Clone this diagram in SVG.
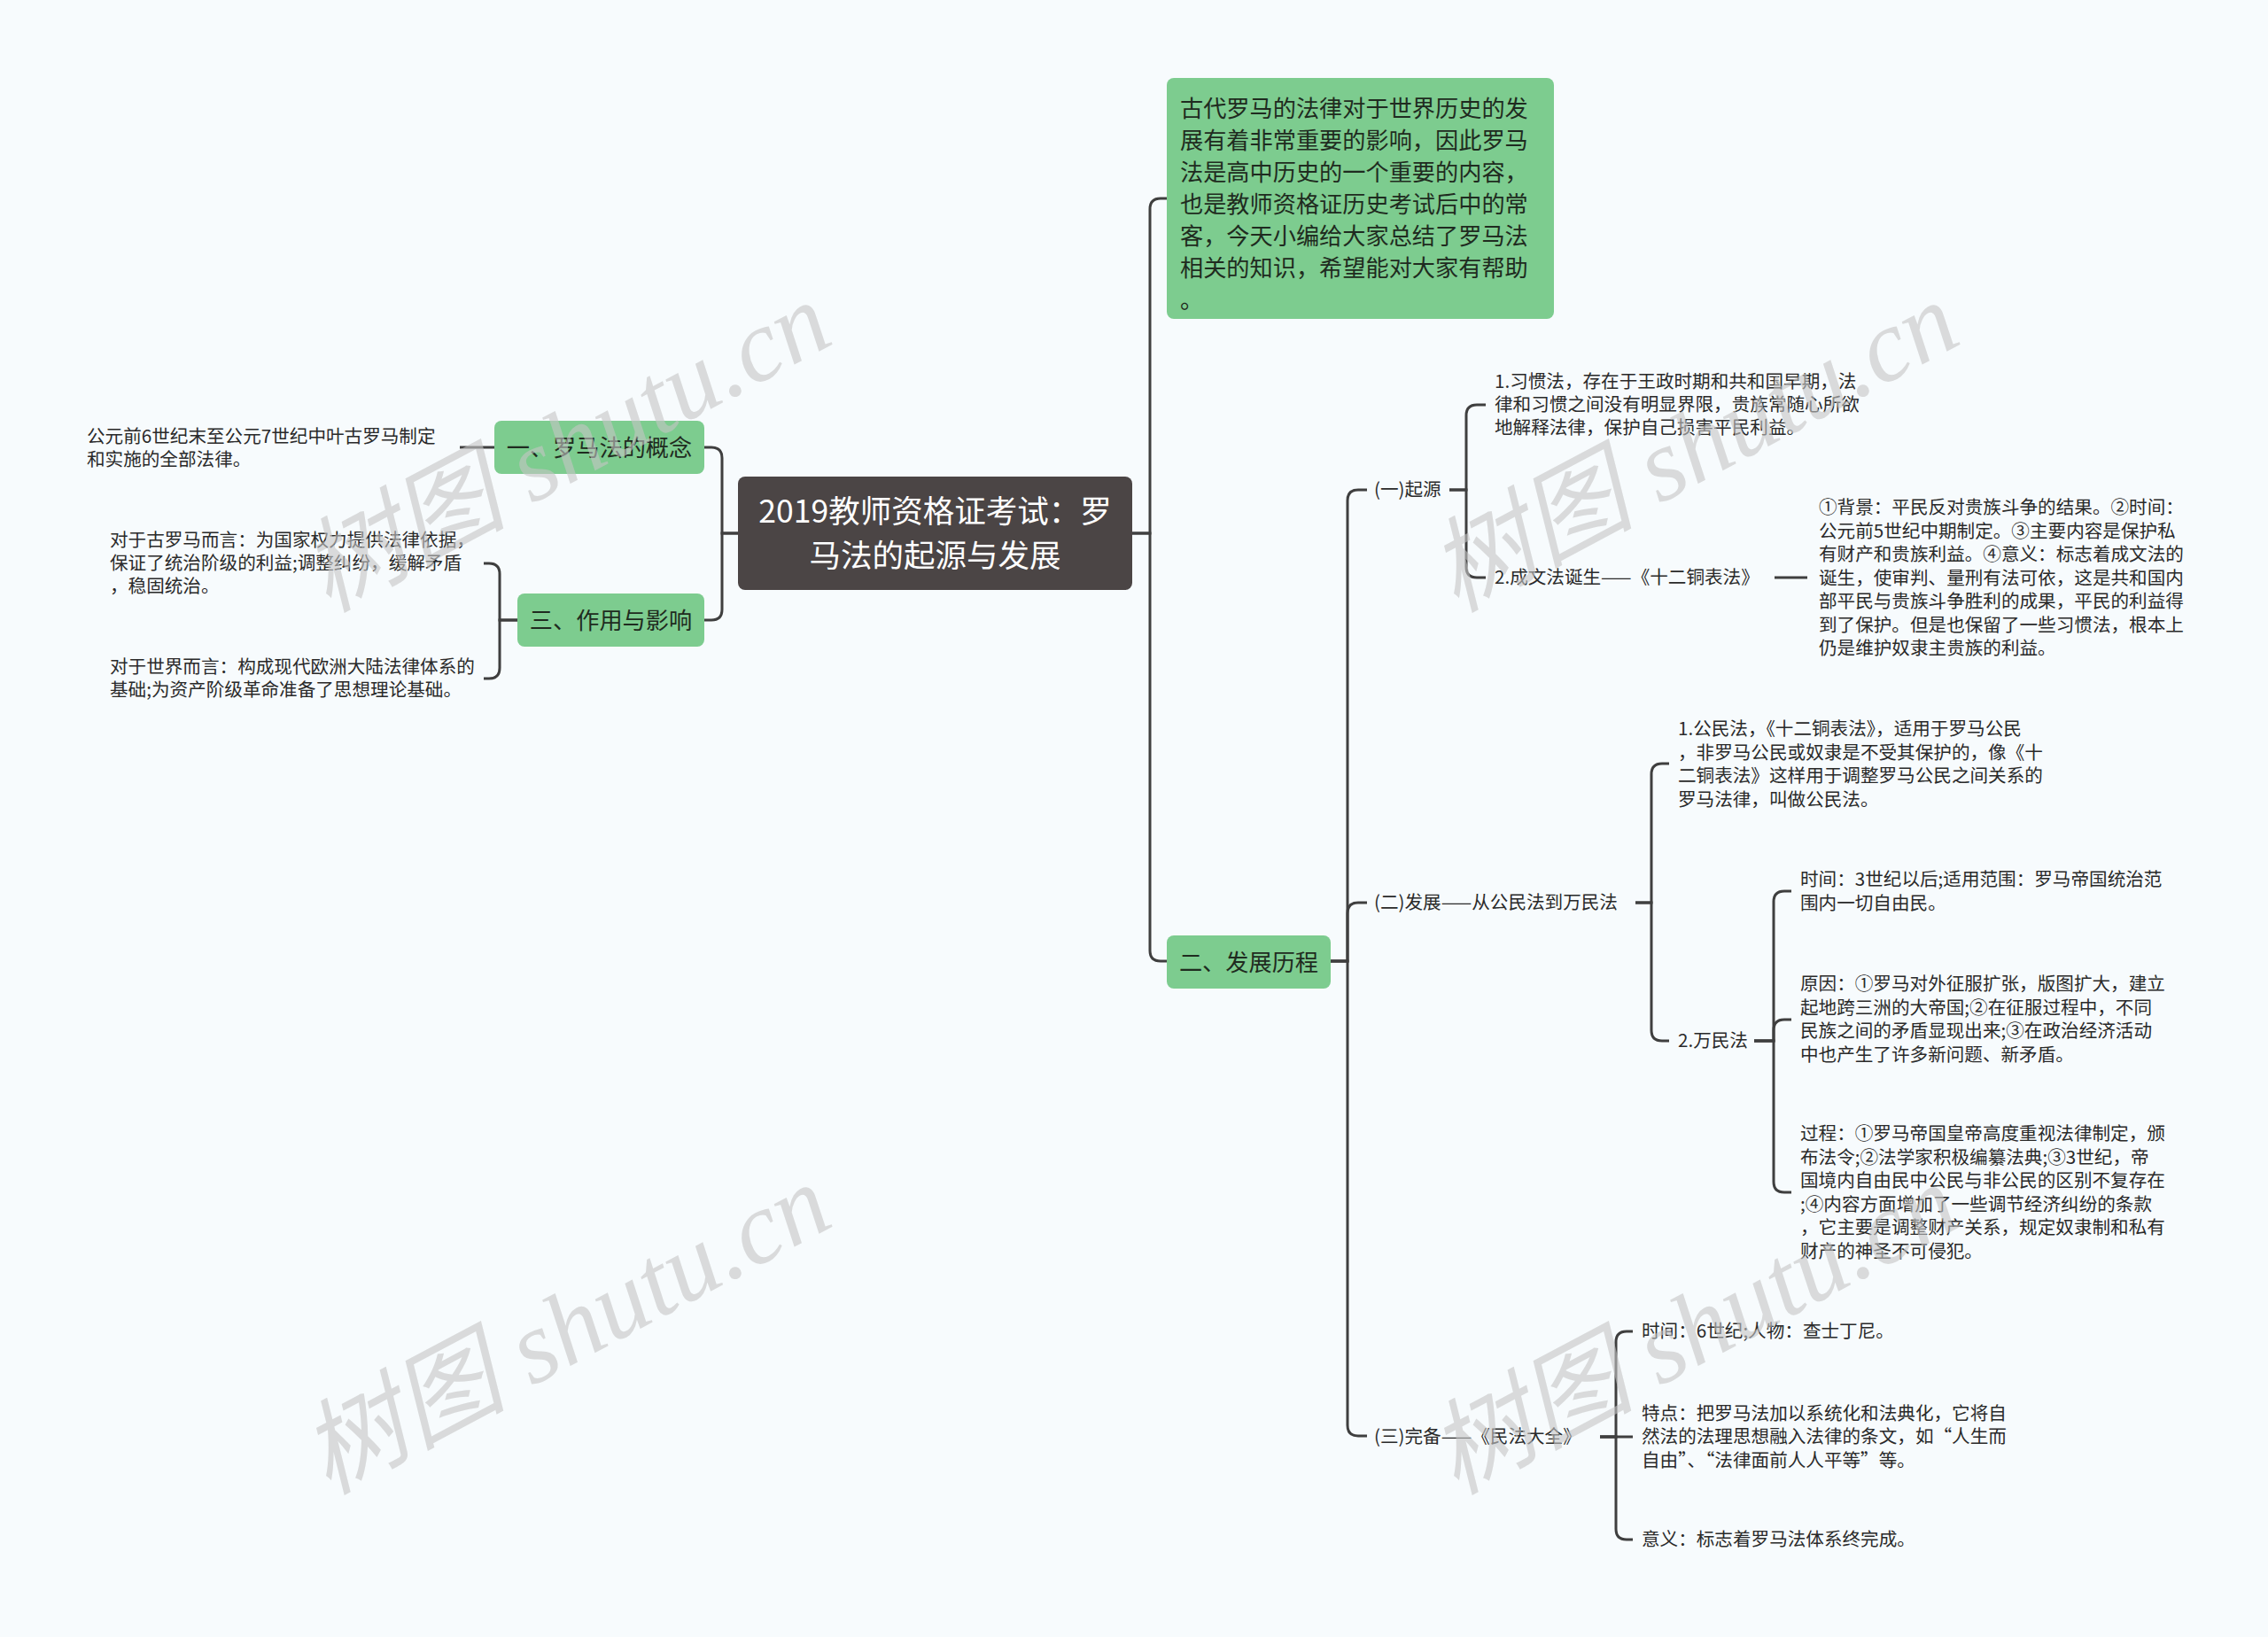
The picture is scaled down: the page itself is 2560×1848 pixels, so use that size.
<svg xmlns="http://www.w3.org/2000/svg" width="2560" height="1848" viewBox="0 0 2560 1848">
<style>
text { font-family: "Noto Sans CJK SC", sans-serif; }
.leaf { font-size: 20.6px; fill: #2a2a2a; }
.main { font-size: 26.2px; fill: #1f2b20; }
.root { font-size: 35.5px; fill: #ffffff; }
.green { fill: #7dcc8f; }
.dark { fill: #4b4545; }
.conn path { fill: none; stroke: #3f3f3f; stroke-width: 3; }
.wm { font-family: "Liberation Serif", "Noto Sans CJK SC", serif; font-style: italic; font-size: 116px; fill: #c4c4c4; fill-opacity: 0.6; }
</style>
<rect width="2560" height="1848" fill="#f7fbfd"/>

<g class="conn" id="connectors">
<path d="M833,602 H815 V517 Q815,505 803,505 H795"/>
<path d="M833,602 H815 V688 Q815,700 803,700 H795"/>
<path d="M558,505 H519"/>
<path d="M584,700 H564 V648 Q564,636 552,636 H546"/>
<path d="M584,700 H564 V754 Q564,766 552,766 H546"/>
<path d="M1278,602 H1298 V236 Q1298,224 1310,224 H1317"/>
<path d="M1278,602 H1298 V1073 Q1298,1085 1310,1085 H1317"/>
<path d="M1502,1085 H1521 V565 Q1521,553 1533,553 H1543"/>
<path d="M1502,1085 H1521 V1031 Q1521,1019 1533,1019 H1543"/>
<path d="M1502,1085 H1521 V1609 Q1521,1621 1533,1621 H1543"/>
<path d="M1636,553 H1655 V469 Q1655,457 1667,457 H1677"/>
<path d="M1636,553 H1655 V640 Q1655,652 1667,652 H1677"/>
<path d="M2003,652 H2040"/>
<path d="M1846,1019 H1864 V874 Q1864,862 1876,862 H1884"/>
<path d="M1846,1019 H1864 V1163 Q1864,1175 1876,1175 H1884"/>
<path d="M1980,1175 H2002 V1018 Q2002,1006 2014,1006 H2022"/>
<path d="M1980,1175 H2002 V1163 Q2002,1151 2014,1151 H2022"/>
<path d="M1980,1175 H2002 V1334 Q2002,1346 2014,1346 H2022"/>
<path d="M1806,1622 H1824 V1515 Q1824,1503 1836,1503 H1843"/>
<path d="M1806,1622 H1843"/>
<path d="M1806,1622 H1824 V1726 Q1824,1738 1836,1738 H1843"/>
</g>

<g id="root">
<rect class="dark" x="833" y="538" width="445" height="128" rx="8"/>
<text class="root" text-anchor="middle"><tspan x="1055.5" y="590">2019教师资格证考试：罗</tspan><tspan x="1055.5" y="640">马法的起源与发展</tspan></text>
</g>

<g id="n-concept">
<rect class="green" x="558" y="475" width="237" height="60" rx="8"/>
<text class="main" x="676.5" y="514.5" text-anchor="middle">一、罗马法的概念</text>
</g>
<g id="n-concept-def">
<text class="leaf"><tspan x="98" y="500">公元前6世纪末至公元7世纪中叶古罗马制定</tspan><tspan x="98" y="526">和实施的全部法律。</tspan></text>
</g>

<g id="n-effect">
<rect class="green" x="584" y="670" width="211" height="60" rx="8"/>
<text class="main" x="689.5" y="709.5" text-anchor="middle">三、作用与影响</text>
</g>
<g id="n-effect-rome">
<text class="leaf"><tspan x="124" y="617">对于古罗马而言：为国家权力提供法律依据，</tspan><tspan x="124" y="643">保证了统治阶级的利益;调整纠纷，缓解矛盾</tspan><tspan x="124" y="669">，稳固统治。</tspan></text>
</g>
<g id="n-effect-world">
<text class="leaf"><tspan x="124" y="760">对于世界而言：构成现代欧洲大陆法律体系的</tspan><tspan x="124" y="786">基础;为资产阶级革命准备了思想理论基础。</tspan></text>
</g>

<g id="n-intro">
<rect class="green" x="1317" y="88" width="437" height="272" rx="8"/>
<text class="main"><tspan x="1332" y="131.5">古代罗马的法律对于世界历史的发</tspan><tspan x="1332" y="167.5">展有着非常重要的影响，因此罗马</tspan><tspan x="1332" y="203.5">法是高中历史的一个重要的内容，</tspan><tspan x="1332" y="239.5">也是教师资格证历史考试后中的常</tspan><tspan x="1332" y="275.5">客，今天小编给大家总结了罗马法</tspan><tspan x="1332" y="311.5">相关的知识，希望能对大家有帮助</tspan><tspan x="1332" y="347.5">。</tspan></text>
</g>

<g id="n-history">
<rect class="green" x="1317" y="1056" width="185" height="60" rx="8"/>
<text class="main" x="1409.5" y="1095.5" text-anchor="middle">二、发展历程</text>
</g>

<g id="n-origin">
<text class="leaf" x="1551" y="560">(一)起源</text>
</g>
<g id="n-custom">
<text class="leaf"><tspan x="1687" y="438">1.习惯法，存在于王政时期和共和国早期，法</tspan><tspan x="1687" y="464">律和习惯之间没有明显界限，贵族常随心所欲</tspan><tspan x="1687" y="490">地解释法律，保护自己损害平民利益。</tspan></text>
</g>
<g id="n-written">
<text class="leaf" x="1687" y="659">2.成文法诞生——《十二铜表法》</text>
</g>
<g id="n-written-detail">
<text class="leaf"><tspan x="2053" y="580">①背景：平民反对贵族斗争的结果。②时间：</tspan><tspan x="2053" y="606.5">公元前5世纪中期制定。③主要内容是保护私</tspan><tspan x="2053" y="633">有财产和贵族利益。④意义：标志着成文法的</tspan><tspan x="2053" y="659.5">诞生，使审判、量刑有法可依，这是共和国内</tspan><tspan x="2053" y="686">部平民与贵族斗争胜利的成果，平民的利益得</tspan><tspan x="2053" y="712.5">到了保护。但是也保留了一些习惯法，根本上</tspan><tspan x="2053" y="739">仍是维护奴隶主贵族的利益。</tspan></text>
</g>

<g id="n-develop">
<text class="leaf" x="1551" y="1026">(二)发展——从公民法到万民法</text>
</g>
<g id="n-civil">
<text class="leaf"><tspan x="1894" y="830">1.公民法，《十二铜表法》，适用于罗马公民</tspan><tspan x="1894" y="856.5">，非罗马公民或奴隶是不受其保护的，像《十</tspan><tspan x="1894" y="883">二铜表法》这样用于调整罗马公民之间关系的</tspan><tspan x="1894" y="909.5">罗马法律，叫做公民法。</tspan></text>
</g>
<g id="n-gentium">
<text class="leaf" x="1894" y="1182">2.万民法</text>
</g>
<g id="n-gentium-time">
<text class="leaf"><tspan x="2032" y="1000">时间：3世纪以后;适用范围：罗马帝国统治范</tspan><tspan x="2032" y="1026.5">围内一切自由民。</tspan></text>
</g>
<g id="n-gentium-cause">
<text class="leaf"><tspan x="2032" y="1118">原因：①罗马对外征服扩张，版图扩大，建立</tspan><tspan x="2032" y="1144.5">起地跨三洲的大帝国;②在征服过程中，不同</tspan><tspan x="2032" y="1171">民族之间的矛盾显现出来;③在政治经济活动</tspan><tspan x="2032" y="1197.5">中也产生了许多新问题、新矛盾。</tspan></text>
</g>
<g id="n-gentium-process">
<text class="leaf"><tspan x="2032" y="1287">过程：①罗马帝国皇帝高度重视法律制定，颁</tspan><tspan x="2032" y="1313.5">布法令;②法学家积极编纂法典;③3世纪，帝</tspan><tspan x="2032" y="1340">国境内自由民中公民与非公民的区别不复存在</tspan><tspan x="2032" y="1366.5">;④内容方面增加了一些调节经济纠纷的条款</tspan><tspan x="2032" y="1393">，它主要是调整财产关系，规定奴隶制和私有</tspan><tspan x="2032" y="1419.5">财产的神圣不可侵犯。</tspan></text>
</g>

<g id="n-complete">
<text class="leaf" x="1551" y="1629">(三)完备——《民法大全》</text>
</g>
<g id="n-complete-time">
<text class="leaf" x="1853" y="1510">时间：6世纪;人物：查士丁尼。</text>
</g>
<g id="n-complete-feature">
<text class="leaf"><tspan x="1853" y="1602.5">特点：把罗马法加以系统化和法典化，它将自</tspan><tspan x="1853" y="1629">然法的法理思想融入法律的条文，如“人生而</tspan><tspan x="1853" y="1655.5">自由”、“法律面前人人平等”等。</tspan></text>
</g>
<g id="n-complete-meaning">
<text class="leaf" x="1853" y="1745">意义：标志着罗马法体系终完成。</text>
</g>

<g id="watermarks">
<text class="wm" x="657" y="539" text-anchor="middle" transform="rotate(-28 657 539)">树图 shutu.cn</text>
<text class="wm" x="1930" y="539" text-anchor="middle" transform="rotate(-28 1930 539)">树图 shutu.cn</text>
<text class="wm" x="657" y="1535" text-anchor="middle" transform="rotate(-28 657 1535)">树图 shutu.cn</text>
<text class="wm" x="1930" y="1535" text-anchor="middle" transform="rotate(-28 1930 1535)">树图 shutu.cn</text>
</g>
</svg>
